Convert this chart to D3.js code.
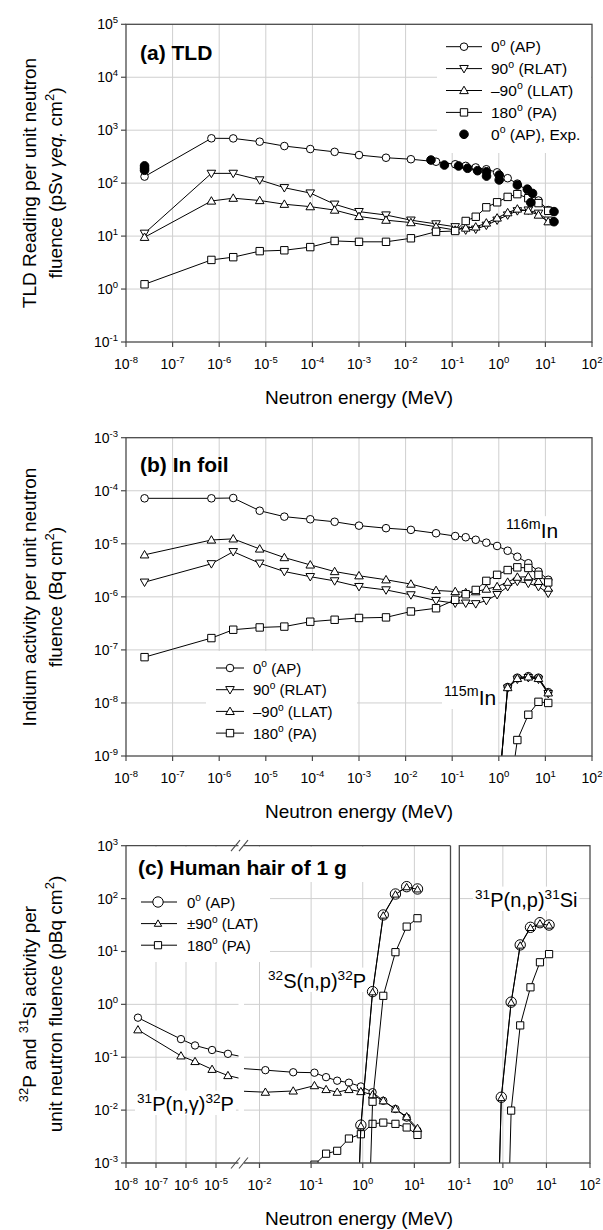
<!DOCTYPE html>
<html lang="en">
<head>
<meta charset="utf-8"/>
<script src="https://cdn.jsdelivr.net/npm/d3@7"></script>
<style>
  body { margin: 0; background: #fff; }
  svg { display: block; font-family: "Liberation Sans", Arial, sans-serif; }
</style>
</head>
<body>
<svg id="chart" width="603" height="1230"></svg>
<script>
// ---------- data ----------
// neutron energies (MeV) used by the calculations
const energy = [2.5e-8, 6.8e-7, 2e-6, 7.4e-6, 2.5e-5, 9e-5, 3e-4, 1e-3, 3.8e-3, 1.3e-2, 4.5e-2,
                0.116, 0.195, 0.32, 0.54, 0.92, 1.55, 2.5, 4.3, 7.1, 11.5];

// (a) TLD reading
const tldAP   = [133, 703, 700, 607, 502, 441, 390, 339, 302, 283, 254, 227, 212, 198, 183, 160, 124, 98, 70, 47, 31];
const tldRLAT = [11.3, 153, 153, 115, 82, 65, 40, 29, 25, 20, 17, 15, 13, 13.5, 16, 20, 25, 30, 31, 27, 20];
const tldLLAT = [9.5, 46, 52, 47, 40, 36, 31, 23.5, 20, 18, 15, 13, 14.2, 14.9, 17.7, 22, 27.7, 32.5, 29.8, 25, 18.7];
const tldPA   = [1.23, 3.55, 4.0, 5.2, 5.4, 6.2, 8.1, 7.8, 7.8, 9.1, 12.1, 12.5, 19.3, 23.2, 35, 43.5, 55, 62, 52, 42, 30];
const expE = [2.5e-8, 2.5e-8, 2.5e-8, 0.035, 0.068, 0.137, 0.214, 0.35, 0.545, 0.545, 1.02, 1.02, 2.5, 4.1, 5.3, 4.85, 15.3, 15.3];
const expV = [212, 192, 175, 273, 220, 211, 191, 172, 164, 136, 142, 115, 92, 77, 64, 43, 29, 18.7];

// (b) indium activity, 116mIn
const inAP   = [7.2e-5, 7.2e-5, 7.3e-5, 4.2e-5, 3.25e-5, 2.9e-5, 2.6e-5, 2.2e-5, 1.97e-5, 1.83e-5, 1.58e-5,
                1.4e-5, 1.33e-5, 1.19e-5, 1.05e-5, 9.1e-6, 7.4e-6, 5.7e-6, 4.3e-6, 3.0e-6, 2.1e-6];
const inRLAT = [1.89e-6, 4.2e-6, 7.1e-6, 4.3e-6, 3.0e-6, 2.4e-6, 2.0e-6, 1.56e-6, 1.35e-6, 1.09e-6, 8.5e-7,
                7.6e-7, 7.6e-7, 7.4e-7, 8.5e-7, 1.1e-6, 1.56e-6, 1.96e-6, 1.8e-6, 1.56e-6, 1.17e-6];
const inLLAT = [6.2e-6, 1.18e-5, 1.24e-5, 8.0e-6, 5.5e-6, 4.0e-6, 3.0e-6, 2.5e-6, 2.1e-6, 1.74e-6, 1.32e-6,
                1.26e-6, 1.2e-6, 1.25e-6, 1.4e-6, 1.56e-6, 1.89e-6, 2.35e-6, 2.4e-6, 1.96e-6, 1.46e-6];
const inPA   = [7.3e-8, 1.67e-7, 2.4e-7, 2.65e-7, 2.75e-7, 3.4e-7, 3.7e-7, 4.0e-7, 4.1e-7, 5.3e-7, 6.1e-7,
                8.8e-7, 1.12e-6, 1.35e-6, 2.0e-6, 2.6e-6, 3.2e-6, 3.6e-6, 3.5e-6, 2.6e-6, 1.87e-6];
// 115mIn (threshold reaction)
const e115 = [0.54, 0.92, 1.55, 2.5, 4.3, 7.1, 11.5];
const in115AP   = [1e-12, 1e-10, 2.0e-8, 3.0e-8, 3.2e-8, 3.0e-8, 1.6e-8];
const in115RLAT = [1e-12, 1e-10, 1.9e-8, 2.8e-8, 3.0e-8, 2.8e-8, 1.5e-8];
const in115LLAT = [1e-12, 1e-10, 1.95e-8, 2.9e-8, 3.1e-8, 2.9e-8, 1.55e-8];
const in115PA   = [1e-13, 1e-12, 1e-10, 2.0e-9, 6e-9, 1.05e-8, 1.0e-8];

// (c) human hair, 31P(n,g)32P
const pgAP  = [0.56, 0.22, 0.167, 0.137, 0.116, 0.1, 0.085, 0.07, 0.062, 0.057, 0.052,
               0.051, 0.042, 0.036, 0.033, 0.028, 0.0218, 0.015, 0.0105, 0.0072, 0.0041];
const pgLAT = [0.33, 0.106, 0.083, 0.059, 0.045, 0.038, 0.03, 0.026, 0.023, 0.0218, 0.023,
               0.029, 0.0245, 0.0218, 0.0245, 0.0224, 0.0195, 0.015, 0.0105, 0.0075, 0.0045];
const pgE_PA = [0.045, 0.116, 0.195, 0.32, 0.54, 0.92, 1.55, 2.5, 4.3, 7.1, 11.5];
const pgPA   = [0.0004, 0.00093, 0.0015, 0.0017, 0.0029, 0.0035, 0.0055, 0.0058, 0.0055, 0.0047, 0.0034];
// 32S(n,p)32P and 31P(n,p)31Si
const eHigh = [0.54, 0.92, 1.55, 2.5, 4.3, 7.1, 11.5];
const spAP  = [1e-9, 0.0052, 1.74, 49, 122, 168, 152];
const spLAT = [1e-9, 0.005, 1.7, 48, 120, 165, 150];
const spPA  = [1e-12, 1e-9, 0.0144, 1.45, 9.7, 29.5, 42.5];
const psAP  = [1e-9, 0.0175, 1.1, 13.3, 28.6, 35, 31.6];
const psLAT = [1e-9, 0.017, 1.08, 13, 28, 34, 31];
const psPA  = [1e-12, 1e-9, 0.0098, 0.4, 2.1, 6.25, 8.9];

// tick exponents
const xDecAB = [-8, -7, -6, -5, -4, -3, -2, -1, 0, 1, 2];
const yDecA = [-1, 0, 1, 2, 3, 4, 5];
const yDecB = [-9, -8, -7, -6, -5, -4, -3];
const yDecC = [-3, -2, -1, 0, 1, 2, 3];
const xDecC1 = [-8, -7, -6, -5];
const xDecC2 = [-2, -1, 0, 1];
const xDecC3 = [-1, 0, 1, 2];

// ---------- helpers ----------
const svg = d3.select("#chart");
const GRID = "#cfcfcf", AXIS = "#4a4a4a";
const p10 = e => Math.pow(10, e);

function rich(t, segs, size) {
  let shift = 0;
  segs.forEach(s => {
    const target = s.sup ? -size * 0.42 : 0;
    const ts = t.append("tspan").attr("dy", target - shift).text(s.t);
    shift = target;
    if (s.sup) ts.attr("font-size", size * 0.68);
    if (s.i) ts.attr("font-style", "italic");
  });
  return t;
}
function powSegs(e) { return [{t: "10"}, {t: String(e), sup: true}]; }

const shapes = {
  circle: r => `M${-r},0A${r},${r} 0 1,0 ${r},0A${r},${r} 0 1,0 ${-r},0Z`,
  square: s => `M${-s/2},${-s/2}h${s}v${s}h${-s}Z`,
  up: s => { const h = s * 0.866; return `M0,${-h*0.58}L${s/2},${h*0.42}L${-s/2},${h*0.42}Z`; },
  down: s => { const h = s * 0.866; return `M0,${h*0.58}L${s/2},${-h*0.42}L${-s/2},${-h*0.42}Z`; }
};

function series(g, xs, ys, E, V, shape, size, opt = {}) {
  const pts = E.map((e, i) => [e, V[i]]);
  if (!opt.noLine) {
    g.append("path").datum(pts)
      .attr("d", d3.line().x(d => xs(d[0])).y(d => ys(d[1])))
      .attr("fill", "none").attr("stroke", "#000").attr("stroke-width", 1);
  }
  g.append("g").selectAll("path").data(pts).join("path")
    .attr("d", shapes[shape](size))
    .attr("transform", d => `translate(${xs(d[0])},${ys(d[1])})`)
    .attr("fill", opt.fill || "#fff").attr("stroke", "#000").attr("stroke-width", 1);
}

let clipId = 0;
function clip(x0, y0, x1, y1) {
  const id = "clip" + (clipId++);
  svg.append("clipPath").attr("id", id).append("rect")
    .attr("x", x0).attr("y", y0).attr("width", x1 - x0).attr("height", y1 - y0);
  return `url(#${id})`;
}

function vGrid(g, xs, decs, y0, y1) {
  g.selectAll(null).data(decs).join("line")
    .attr("x1", d => xs(p10(d))).attr("x2", d => xs(p10(d)))
    .attr("y1", y0).attr("y2", y1).attr("stroke", GRID).attr("stroke-width", 1);
}
function hGrid(g, ys, decs, x0, x1) {
  g.selectAll(null).data(decs).join("line")
    .attr("y1", d => ys(p10(d))).attr("y2", d => ys(p10(d)))
    .attr("x1", x0).attr("x2", x1).attr("stroke", GRID).attr("stroke-width", 1);
}
function xTicks(g, xs, decs, yb) {
  g.selectAll(null).data(decs).join("line")
    .attr("x1", d => xs(p10(d))).attr("x2", d => xs(p10(d)))
    .attr("y1", yb).attr("y2", yb + 5).attr("stroke", AXIS).attr("stroke-width", 1.2);
  decs.forEach(d => {
    rich(g.append("text").attr("x", xs(p10(d))).attr("y", yb + 27)
      .attr("text-anchor", "middle").attr("font-size", 14), powSegs(d), 14);
  });
}
function yTicks(g, ys, decs, xl) {
  g.selectAll(null).data(decs).join("line")
    .attr("y1", d => ys(p10(d))).attr("y2", d => ys(p10(d)))
    .attr("x1", xl - 5).attr("x2", xl).attr("stroke", AXIS).attr("stroke-width", 1.2);
  decs.forEach(d => {
    rich(g.append("text").attr("x", xl - 8).attr("y", ys(p10(d)) + 5)
      .attr("text-anchor", "end").attr("font-size", 14), powSegs(d), 14);
  });
}
function box(g, x0, y0, x1, y1) {
  g.append("rect").attr("x", x0).attr("y", y0).attr("width", x1 - x0).attr("height", y1 - y0)
    .attr("fill", "none").attr("stroke", AXIS).attr("stroke-width", 1.3);
}
function whiteRect(g, x0, y0, x1, y1) {
  g.append("rect").attr("x", x0).attr("y", y0).attr("width", x1 - x0).attr("height", y1 - y0).attr("fill", "#fff");
}
function label(g, bg, x, y, segs, size, pad = 2) {
  const t = rich(g.append("text").attr("x", x).attr("y", y).attr("font-size", size), segs, size);
  const b = t.node().getBBox();
  whiteRect(bg, b.x - pad, b.y, b.x + b.width + pad, b.y + b.height);
  return t;
}
function legend(g, rows, x0, x1, xm, xt, y0, dy, size) {
  rows.forEach((r, i) => {
    const y = y0 + i * dy;
    if (!r.noLine) g.append("line").attr("x1", x0).attr("x2", x1).attr("y1", y).attr("y2", y)
      .attr("stroke", "#000").attr("stroke-width", 1);
    g.append("path").attr("d", shapes[r.shape](r.size)).attr("transform", `translate(${xm},${y})`)
      .attr("fill", r.fill || "#fff").attr("stroke", "#000");
    rich(g.append("text").attr("x", xt).attr("y", y + 5.5).attr("font-size", size), r.label, size);
  });
}
function yTitle(lines, cy, size) {
  const xs = [36, 62];
  lines.forEach((segs, i) => {
    rich(svg.append("text").attr("transform", `translate(${xs[i]},${cy}) rotate(-90)`)
      .attr("text-anchor", "middle").attr("font-size", size), segs, size);
  });
}
function xTitle(y) {
  svg.append("text").attr("x", 359).attr("y", y).attr("text-anchor", "middle")
    .attr("font-size", 19).text("Neutron energy (MeV)");
}
const deg = (pre, post) => [{t: pre}, {t: "o", sup: true}, {t: post}];

// ---------- panels (a) and (b) ----------
const xAB = d3.scaleLog().domain([1e-8, 1e2]).range([126, 592]);
const yA = d3.scaleLog().domain([1e-1, 1e5]).range([342, 24.3]);
const yB = d3.scaleLog().domain([1e-9, 1e-3]).range([756, 437.7]);

function panelAB(ys, yDecs) {
  const [yb, yt] = ys.range();
  const g = svg.append("g");
  const grid = g.append("g");
  vGrid(grid, xAB, xDecAB.slice(1, -1), yt, yb);
  hGrid(grid, ys, yDecs.slice(1, -1), 126, 592);
  const bg = g.append("g");
  const data = g.append("g").attr("clip-path", clip(126, yt, 592, yb));
  const fr = g.append("g");
  box(fr, 126, yt, 592, yb);
  xTicks(fr, xAB, xDecAB, yb);
  yTicks(fr, ys, yDecs, 126);
  return {g, bg, data, fr};
}

// (a)
const pa = panelAB(yA, yDecA);
whiteRect(pa.bg, 437, 25, 591, 153);
series(pa.data, xAB, yA, energy, tldAP, "circle", 3.8);
series(pa.data, xAB, yA, energy, tldRLAT, "down", 8.6);
series(pa.data, xAB, yA, energy, tldLLAT, "up", 8.6);
series(pa.data, xAB, yA, energy, tldPA, "square", 7.4);
series(pa.data, xAB, yA, expE, expV, "circle", 4.3, {noLine: true, fill: "#000"});
pa.fr.append("text").attr("x", 140).attr("y", 60).attr("font-size", 21).attr("font-weight", "bold").text("(a) TLD");
legend(pa.fr, [
  {shape: "circle", size: 3.8, label: deg("0", " (AP)")},
  {shape: "down", size: 8.6, label: deg("90", " (RLAT)")},
  {shape: "up", size: 8.6, label: deg("\u201390", " (LLAT)")},
  {shape: "square", size: 7.4, label: deg("180", " (PA)")},
  {shape: "circle", size: 4.3, fill: "#000", noLine: true, label: deg("0", " (AP), Exp.")}
], 446, 482, 464, 491, 46.7, 21.9, 15.5);
xTitle(404);

// (b)
const pb = panelAB(yB, yDecB);
whiteRect(pb.bg, 206, 651, 357, 755);
series(pb.data, xAB, yB, energy, inAP, "circle", 3.8);
series(pb.data, xAB, yB, energy, inRLAT, "down", 8.6);
series(pb.data, xAB, yB, energy, inLLAT, "up", 8.6);
series(pb.data, xAB, yB, energy, inPA, "square", 7.4);
series(pb.data, xAB, yB, e115, in115PA, "square", 7.4);
series(pb.data, xAB, yB, e115, in115AP, "circle", 3.8);
series(pb.data, xAB, yB, e115, in115RLAT, "down", 8.6);
series(pb.data, xAB, yB, e115, in115LLAT, "up", 8.6);
pb.fr.append("text").attr("x", 140).attr("y", 472).attr("font-size", 21).attr("font-weight", "bold").text("(b) In foil");
label(pb.fr, pb.bg, 506, 538, [{t: "116m", sup: true}, {t: "In"}], 21);
label(pb.fr, pb.bg, 444, 705, [{t: "115m", sup: true}, {t: "In"}], 21);
legend(pb.fr, [
  {shape: "circle", size: 3.8, label: deg("0", " (AP)")},
  {shape: "down", size: 8.6, label: deg("90", " (RLAT)")},
  {shape: "up", size: 8.6, label: deg("\u201390", " (LLAT)")},
  {shape: "square", size: 7.4, label: deg("180", " (PA)")}
], 216, 244, 230, 253, 668, 21.7, 15);
xTitle(818);

// ---------- panel (c) ----------
const yC = d3.scaleLog().domain([1e-3, 1e3]).range([1163, 845.7]);
const xC1 = d3.scaleLog().domain([1e-8, p10(-4.25)]).range([126, 238.5]);
const xC2 = d3.scaleLog().domain([p10(-2.3), p10(1.7)]).range([244, 450.5]);
const xC3 = d3.scaleLog().domain([1e-1, 1e2]).range([459.3, 590]);
const cT = 845.7, cB = 1163;
const gc = svg.append("g");
const gridC = gc.append("g");
vGrid(gridC, xC1, xDecC1.slice(1), cT, cB);
vGrid(gridC, xC2, xDecC2, cT, cB);
vGrid(gridC, xC3, xDecC3.slice(1, -1), cT, cB);
hGrid(gridC, yC, yDecC.slice(1, -1), 126, 238.5);
hGrid(gridC, yC, yDecC.slice(1, -1), 244, 450.5);
hGrid(gridC, yC, yDecC.slice(1, -1), 459.3, 590);
const bgC = gc.append("g");
whiteRect(bgC, 127, 847, 270, 962);
whiteRect(bgC, 127, 847, 374, 882);
const d1 = gc.append("g").attr("clip-path", clip(126, cT, 238.5, cB));
const d2 = gc.append("g").attr("clip-path", clip(244, cT, 450.5, cB));
const d3g = gc.append("g").attr("clip-path", clip(459.3, cT, 590, cB));
[[d1, xC1], [d2, xC2]].forEach(([g, xs]) => {
  series(g, xs, yC, energy, pgAP, "circle", 3.7);
  series(g, xs, yC, energy, pgLAT, "up", 8.4);
  series(g, xs, yC, pgE_PA, pgPA, "square", 7.2);
});
series(d2, xC2, yC, eHigh, spPA, "square", 7.2);
series(d2, xC2, yC, eHigh, spAP, "circle", 5.2);
series(d2, xC2, yC, eHigh, spLAT, "up", 7.4);
series(d3g, xC3, yC, eHigh, psPA, "square", 7.2);
series(d3g, xC3, yC, eHigh, psAP, "circle", 5.2);
series(d3g, xC3, yC, eHigh, psLAT, "up", 7.4);

const frC = gc.append("g");
// left panel frame with axis break
frC.append("line").attr("x1", 126).attr("x2", 126).attr("y1", cT).attr("y2", cB).attr("stroke", AXIS).attr("stroke-width", 1.3);
frC.append("line").attr("x1", 450.5).attr("x2", 450.5).attr("y1", cT).attr("y2", cB).attr("stroke", AXIS).attr("stroke-width", 1.3);
[cT, cB].forEach(y => {
  frC.append("line").attr("x1", 126).attr("x2", 238.5).attr("y1", y).attr("y2", y).attr("stroke", AXIS).attr("stroke-width", 1.3);
  frC.append("line").attr("x1", 244).attr("x2", 450.5).attr("y1", y).attr("y2", y).attr("stroke", AXIS).attr("stroke-width", 1.3);
  [231, 239].forEach(x => {
    frC.append("line").attr("x1", x).attr("y1", y + 5.5).attr("x2", x + 9).attr("y2", y - 5.5)
      .attr("stroke", AXIS).attr("stroke-width", 1.1);
  });
});
box(frC, 459.3, cT, 590, cB);
xTicks(frC, xC1, xDecC1, cB);
xTicks(frC, xC2, xDecC2, cB);
xTicks(frC, xC3, xDecC3, cB);
yTicks(frC, yC, yDecC, 126);

frC.append("text").attr("x", 138).attr("y", 875).attr("font-size", 21).attr("font-weight", "bold").text("(c) Human hair of 1 g");
legend(frC, [
  {shape: "circle", size: 5.2, label: deg("0", " (AP)")},
  {shape: "up", size: 7.4, label: deg("\u00b190", " (LAT)")},
  {shape: "square", size: 7.2, label: deg("180", " (PA)")}
], 141, 177, 158, 187, 902, 21.6, 15);
label(frC, bgC, 268, 988, [{t: "32", sup: true}, {t: "S(n,p)"}, {t: "32", sup: true}, {t: "P"}], 20);
label(frC, bgC, 137, 1111, [{t: "31", sup: true}, {t: "P(n,\u03b3)"}, {t: "32", sup: true}, {t: "P"}], 20);
label(frC, bgC, 475, 907, [{t: "31", sup: true}, {t: "P(n,p)"}, {t: "31", sup: true}, {t: "Si"}], 20);
xTitle(1225);

// ---------- y titles ----------
yTitle([[{t: "TLD Reading per unit neutron"}],
        [{t: "fluence (pSv "}, {t: "\u03b3eq.", i: true}, {t: " cm"}, {t: "2", sup: true}, {t: ")"}]], 183, 19);
yTitle([[{t: "Indium activity per unit neutron"}],
        [{t: "fluence (Bq cm"}, {t: "2", sup: true}, {t: ")"}]], 597, 19);
yTitle([[{t: "32", sup: true}, {t: "P and "}, {t: "31", sup: true}, {t: "Si activity per"}],
        [{t: "unit neutron fluence (pBq cm"}, {t: "2", sup: true}, {t: ")"}]], 1004, 19);
</script>
</body>
</html>
